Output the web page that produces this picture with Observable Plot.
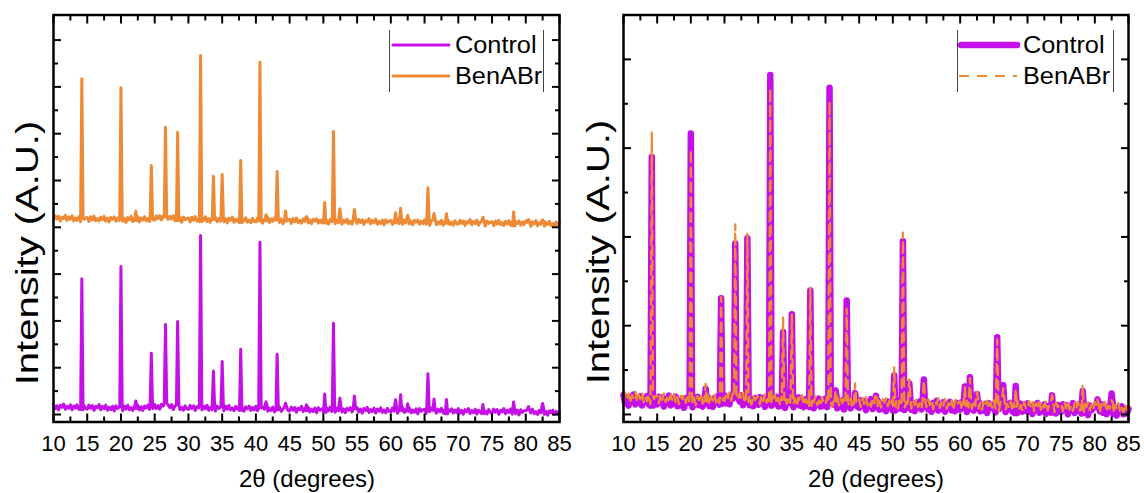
<!DOCTYPE html>
<html>
<head>
<meta charset="utf-8">
<script src="https://cdn.jsdelivr.net/npm/d3@7"></script>
<script src="https://cdn.jsdelivr.net/npm/@observablehq/plot@0.6"></script>
<style>
  html, body { margin: 0; padding: 0; background: #fff; }
  #wrap { position: relative; width: 1144px; height: 493px; font-family: "Liberation Sans", Arial, sans-serif; color: #000; overflow: hidden; }
  .panel { position: absolute; top: 0; }
  .ytitle { position: absolute; white-space: nowrap; font-size: 32px; line-height: 1; transform: translate(-50%, -50%) rotate(-90deg) scaleX(1.25); }
  .xtitle { position: absolute; white-space: nowrap; font-size: 24px; line-height: 1; transform: translate(-50%, -50%); }
  .legend { position: absolute; }
  .legend .item { position: absolute; font-size: 23px; line-height: 1; transform-origin: 0 50%; transform: translateY(-50%) scaleX(1.1); white-space: nowrap; }
  .legend .bar { position: absolute; top: 0; width: 1px; background: #444; }
</style>
</head>
<body>
<div id="wrap"></div>
<script>
// ---------------- data ----------------
const seriesNames = ["Control", "BenABr"];
const seriesColors = ["#C40FE8", "#EE8A35"];

// x axis (2θ, degrees)
const xDomain = [10, 85];
const xTickLabels = [10, 15, 20, 25, 30, 35, 40, 45, 50, 55, 60, 65, 70, 75, 80, 85];
const xMinorTicks = [12.5, 17.5, 22.5, 27.5, 32.5, 37.5, 42.5, 47.5, 52.5, 57.5, 62.5, 67.5, 72.5, 77.5, 82.5];

// y axes (arbitrary counts, unlabeled)
const yDomainLeft = [-160, 8536];
const yMajorLeft = [0, 1000, 2000, 3000, 4000, 5000, 6000, 7000, 8000];
const yMinorLeft = [500, 1500, 2500, 3500, 4500, 5500, 6500, 7500];
const yDomainRight = [-85, 4500];
const yMajorRight = [0, 1000, 2000, 3000, 4000];
const yMinorRight = [500, 1500, 2500, 3500];
const benOffsetLeft = 4000; // vertical stacking offset of BenABr in the left panel

// diffraction peaks: positions (degrees) and peak-top intensities (counts)
const peakPos     = [14.2, 20.0, 22.2, 24.5, 26.6, 28.4, 31.8, 33.7, 35.0, 37.75, 40.6, 41.5, 43.15, 44.4, 47.5, 50.2, 51.5, 52.45, 54.6, 60.7, 61.45, 62.5, 65.5, 66.4, 68.25, 73.65, 78.2, 80.4, 82.5];
const controlPeak = [2900, 3165, 290, 1310, 1925, 1985, 3825, 930, 1130, 1395, 3680, 270, 1285, 240, 210, 440, 1950, 350, 395, 315, 420, 230, 870, 330, 320, 215, 265, 170, 235];
const benPeak     = [3174, 2982, 345, 1321, 2140, 2033, 3672, 1092, 1129, 1428, 3529, 268, 1193, 350, 230, 530, 2048, 396, 381, 310, 409, 253, 845, 295, 289, 216, 330, 167, 160];
const peakHalfWidth = 0.18;

// noisy background sampled every 0.25 degrees from 10 to 85 (one row = 5 degrees)
const baseStart = 10, baseStep = 0.25;
const controlBase = [
  220,125,185,100,198,153,223,113,175,130,205,100,183,138,208,113,160,100,195,130,
  115,200,135,190,88,173,143,213,100,175,125,200,92,152,102,177,75,185,130,160,
  165,80,180,115,198,103,148,88,182,127,197,97,166,86,181,141,200,110,177,122,
  215,125,192,115,221,180,252,140,200,148,215,103,183,135,202,105,153,92,186,120,
  110,195,130,185,85,170,140,210,98,173,123,198,90,150,100,175,73,183,128,158,
  166,81,181,116,193,98,143,83,172,117,185,85,150,70,163,123,178,88,150,95,
  178,83,143,58,155,110,180,70,132,87,160,55,140,95,163,68,117,57,152,87,
  75,160,95,150,48,133,103,173,62,137,83,158,54,114,64,139,36,146,91,121,
  130,45,145,80,159,64,109,49,138,83,153,53,118,38,132,92,146,56,121,66,
  150,55,115,30,128,83,153,43,108,63,136,31,117,72,141,46,96,36,131,66,
  55,140,75,130,28,113,83,153,43,118,68,143,35,95,45,120,17,127,72,102,
  110,25,125,60,138,43,88,28,116,61,131,31,95,15,109,69,121,31,96,41,
  125,30,90,5,104,59,129,19,83,38,113,8,93,48,117,22,71,11,106,41,
  30,115,50,105,3,88,58,128,17,92,42,117,9,69,19,94,-8,102,47,77,
  85,0,100,35,113,18,63,3,90,35,105,5,67,-13,80,40,92,2,67,12,
  60
];
const benBase = [
  160,245,180,235,133,218,188,258,146,221,171,246,138,198,148,223,117,227,172,202,
  210,125,225,160,238,143,188,133,217,162,232,132,196,116,211,171,221,131,196,141,
  225,130,190,105,207,162,232,122,189,144,221,116,201,156,230,135,187,127,225,160,
  153,243,185,248,155,245,220,287,170,237,180,248,138,194,140,212,110,218,162,191,
  200,115,215,150,229,134,179,119,208,153,223,123,187,107,202,162,211,121,186,131,
  215,120,180,95,193,148,218,108,173,128,201,96,181,136,204,109,156,96,191,126,
  115,200,135,190,88,173,143,213,103,178,128,203,95,155,105,180,76,186,131,161,
  170,85,185,120,198,103,148,88,178,123,193,93,157,77,172,132,181,91,156,101,
  185,90,150,65,163,118,188,78,143,98,171,66,151,106,174,79,126,66,161,96,
  85,170,105,160,59,144,114,184,74,149,99,174,67,127,77,152,51,161,106,136,
  145,60,160,95,173,78,123,63,153,98,168,68,133,53,148,108,156,66,131,76,
  160,65,125,40,139,94,164,54,119,74,148,44,128,83,152,58,106,46,141,76,
  65,150,85,140,38,123,93,163,53,128,78,153,45,105,55,130,26,136,81,111,
  120,35,135,70,149,54,99,39,128,73,143,43,108,28,123,83,136,46,111,56,
  140,45,105,20,118,73,143,33,98,68,126,21,106,61,129,34,81,21,116,51,
  95
];

// ---------------- build pattern rows ----------------
function buildPattern(base, peaks) {
  const pts = [];
  base.forEach((v, i) => {
    const x = baseStart + i * baseStep;
    if (!peakPos.some(p => Math.abs(x - p) <= peakHalfWidth)) pts.push({x, y: v});
  });
  peakPos.forEach((p, j) => {
    const b = base[Math.round((p - baseStart) / baseStep)];
    pts.push({x: p - peakHalfWidth, y: b}, {x: p, y: peaks[j]}, {x: p + peakHalfWidth, y: b});
  });
  return pts.sort((a, b) => a.x - b.x);
}
const controlRows = buildPattern(controlBase, controlPeak);
const benRows = buildPattern(benBase, benPeak);

// ---------------- drawing ----------------
const W = 572, H = 493;
const font = '"Liberation Sans", Arial, sans-serif';

function frameAndAxes(yMajor, yMinor) {
  const common = {label: null, stroke: "black", tickFormat: () => ""};
  return [
    Plot.frame({stroke: "black", strokeWidth: 2.5}),
    Plot.axisX({...common, anchor: "bottom", ticks: xTickLabels, tickSize: -8, strokeWidth: 2, fill: "none"}),
    Plot.axisX({...common, anchor: "bottom", ticks: xMinorTicks, tickSize: -5, strokeWidth: 2, fill: "none"}),
    Plot.axisX({...common, anchor: "top", ticks: xTickLabels, tickSize: -8, strokeWidth: 2, fill: "none"}),
    Plot.axisX({...common, anchor: "top", ticks: xMinorTicks, tickSize: -5, strokeWidth: 2, fill: "none"}),
    Plot.axisY({...common, anchor: "left", ticks: yMajor, tickSize: -8, strokeWidth: 2, fill: "none"}),
    Plot.axisY({...common, anchor: "left", ticks: yMinor, tickSize: -5, strokeWidth: 2, fill: "none"}),
    Plot.axisY({...common, anchor: "right", ticks: yMajor, tickSize: -8, strokeWidth: 2, fill: "none"}),
    Plot.axisY({...common, anchor: "right", ticks: yMinor, tickSize: -5, strokeWidth: 2, fill: "none"}),
    Plot.axisX({anchor: "bottom", ticks: xTickLabels, tickSize: 0, tickPadding: 13, label: null, tickFormat: d => String(d), fill: "black"})
  ];
}

const leftPlot = Plot.plot({
  width: W, height: H,
  marginLeft: 53, marginRight: 13, marginTop: 14.5, marginBottom: 71.5,
  style: {fontFamily: font, fontSize: "22px", color: "black", background: "white", overflow: "visible"},
  x: {domain: xDomain},
  y: {domain: yDomainLeft},
  marks: [
    Plot.line(controlRows, {x: "x", y: "y", stroke: seriesColors[0], strokeWidth: 3, strokeLinejoin: "round"}),
    Plot.line(benRows, {x: "x", y: d => d.y + benOffsetLeft, stroke: seriesColors[1], strokeWidth: 3, strokeLinejoin: "round"}),
    ...frameAndAxes(yMajorLeft, yMinorLeft)
  ]
});

const rightPlot = Plot.plot({
  width: W, height: H,
  marginLeft: 51, marginRight: 16, marginTop: 14.5, marginBottom: 71.5,
  style: {fontFamily: font, fontSize: "22px", color: "black", background: "white", overflow: "visible"},
  x: {domain: xDomain},
  y: {domain: yDomainRight},
  marks: [
    Plot.line(controlRows, {x: "x", y: "y", stroke: seriesColors[0], strokeWidth: 6.5, strokeLinejoin: "round"}),
    Plot.line(benRows, {x: "x", y: "y", stroke: seriesColors[1], strokeWidth: 2.3, strokeDasharray: "9,6", strokeLinejoin: "round"}),
    ...frameAndAxes(yMajorRight, yMinorRight)
  ]
});

const wrap = document.getElementById("wrap");
function addPanel(svg, left) {
  const d = document.createElement("div");
  d.className = "panel";
  d.style.left = left + "px";
  d.appendChild(svg);
  wrap.appendChild(d);
}
addPanel(leftPlot, 0);
addPanel(rightPlot, 572);

function addText(cls, text, x, y) {
  const t = document.createElement("div");
  t.className = cls;
  t.textContent = text;
  t.style.left = x + "px";
  t.style.top = y + "px";
  wrap.appendChild(t);
}
addText("ytitle", "Intensity (A.U.)", 27, 253);
addText("ytitle", "Intensity (A.U.)", 598, 252);
addText("xtitle", "2θ (degrees)", 307, 479);
addText("xtitle", "2θ (degrees)", 876, 479);

// legends
function addLegend(x, y, boxW, styles) {
  const lg = document.createElement("div");
  lg.className = "legend";
  lg.style.left = x + "px";
  lg.style.top = y + "px";
  lg.style.width = boxW + "px";
  lg.style.height = "62px";
  const b1 = document.createElement("div"); b1.className = "bar"; b1.style.left = "0px"; b1.style.height = "62px";
  const b2 = document.createElement("div"); b2.className = "bar"; b2.style.left = (boxW - 1) + "px"; b2.style.height = "62px";
  lg.appendChild(b1); lg.appendChild(b2);
  const svgNS = "http://www.w3.org/2000/svg";
  const svg = document.createElementNS(svgNS, "svg");
  svg.setAttribute("width", 64); svg.setAttribute("height", 62);
  svg.style.position = "absolute"; svg.style.left = "1px"; svg.style.top = "0px";
  const rowsY = [15, 46];
  seriesNames.forEach((name, i) => {
    const ln = document.createElementNS(svgNS, "line");
    ln.setAttribute("x1", styles[i].dash ? 1 : 3); ln.setAttribute("x2", 59);
    ln.setAttribute("y1", rowsY[i]); ln.setAttribute("y2", rowsY[i]);
    ln.setAttribute("stroke", seriesColors[i]);
    ln.setAttribute("stroke-width", styles[i].w);
    ln.setAttribute("stroke-linecap", styles[i].dash ? "butt" : "round");
    if (styles[i].dash) ln.setAttribute("stroke-dasharray", styles[i].dash);
    svg.appendChild(ln);
    const t = document.createElement("div");
    t.className = "item";
    t.textContent = name;
    t.style.left = "66px";
    t.style.top = rowsY[i] + "px";
    lg.appendChild(t);
  });
  lg.appendChild(svg);
  wrap.appendChild(lg);
}
addLegend(389, 30, 155, [{w: 3}, {w: 3}]);
addLegend(957, 30, 157, [{w: 6.5}, {w: 2, dash: "10,8"}]);
</script>
</body>
</html>
